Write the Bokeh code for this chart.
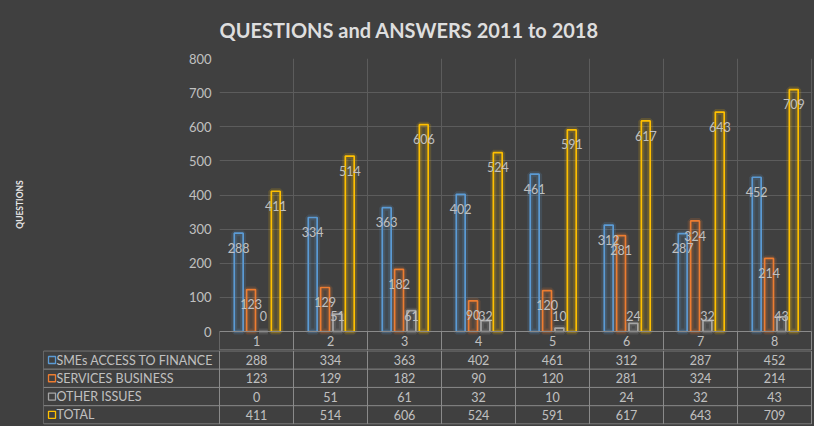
import numpy as np
from bokeh.plotting import figure
from bokeh.models import Range1d, SingleIntervalTicker, FixedTicker, ColumnDataSource
from bokeh.layouts import column
from bokeh.embed import file_html
from bokeh.resources import INLINE
from bokeh.core.properties import value

# ---------------- data ----------------
title_text = "QUESTIONS and ANSWERS 2011 to 2018"
y_label = "QUESTIONS"
categories = ["1", "2", "3", "4", "5", "6", "7", "8"]
series_names = ["SMEs ACCESS TO FINANCE", "SERVICES BUSINESS", "OTHER ISSUES", "TOTAL"]
smes_access = [288, 334, 363, 402, 461, 312, 287, 452]
services_business = [123, 129, 182, 90, 120, 281, 324, 214]
other_issues = [0, 51, 61, 32, 10, 24, 32, 43]
total = [411, 514, 606, 524, 591, 617, 643, 709]
y_ticks = [0, 100, 200, 300, 400, 500, 600, 700, 800]

series_values = [smes_access, services_business, other_issues, total]

# ---------------- style ----------------
colors = ["#5b9bd5", "#ed7d31", "#a5a5a5", "#ffc000"]
BG = "#404040"
GRID = "#5c5c5c"
TABLE_LINE = "#8a8a8a"
TXT = "#c0c0c0"
FONT = "Lato"

n = len(categories)
nrows = len(series_names)
xc = np.arange(n) + 0.5
ymax = y_ticks[-1]

# layout helpers (pixels -> data units)
px_per_y = 273 / ymax          # plot height 273 px for 0..800
px_per_x = 74                  # one category = 74 px
row_h = 18.5 / px_per_y        # header row height in y units
L0 = 176 / px_per_x            # label column width in x units
x_end = n + 1 / px_per_x

# ---------------- chart (with header row of the table) ----------------
p = figure(width=814, height=350,
           x_range=Range1d(0, x_end), y_range=Range1d(-19 / px_per_y, ymax),
           output_backend="svg", toolbar_location=None, x_axis_location=None,
           min_border_left=219, min_border_right=2, min_border_top=58, min_border_bottom=0)
p.frame_align = False
p.background_fill_color = BG
p.border_fill_color = BG
p.outline_line_color = None

p.title.text = title_text
p.title.align = "left"
p.title.offset = 0
p.title.vertical_align = "middle"
p.title.text_font = FONT
p.title.text_font_size = "20px"
p.title.text_font_style = "bold"
p.title.text_color = "#dedede"
p.title.standoff = 32

p.xgrid.ticker = SingleIntervalTicker(interval=1)
p.xgrid.bounds = (0, n)
p.xgrid.cross_bounds = (0, ymax)
p.xgrid.grid_line_color = GRID
p.ygrid.ticker = FixedTicker(ticks=y_ticks)
p.ygrid.bounds = (1, ymax)
p.ygrid.grid_line_color = GRID

ax = p.yaxis[0]
ax.bounds = (0, ymax)
ax.ticker = FixedTicker(ticks=y_ticks)
ax.axis_line_color = None
ax.major_tick_line_color = None
ax.minor_tick_line_color = None
ax.major_tick_in = 0
ax.major_tick_out = 0
ax.major_label_standoff = 8
ax.major_label_text_color = TXT
ax.major_label_text_font = FONT
ax.major_label_text_font_size = "13px"
ax.axis_label = y_label
ax.axis_label_text_color = "#e6e6e6"
ax.axis_label_text_font = FONT
ax.axis_label_text_font_size = "8.5px"
ax.axis_label_text_font_style = "bold"
ax.axis_label_standoff = 161

step = 0.167
bw = 0.12
label_sources = []
for k, (vals, col) in enumerate(zip(series_values, colors)):
    xs = xc + (k - 1.5) * step + 0.01
    v = np.array(vals, dtype=float)
    src = ColumnDataSource(dict(x=xs, top=v, ly=np.maximum(v - 43, 46), t=[str(a) for a in vals]))
    p.vbar(x="x", top="top", bottom=0, width=bw, source=src,
           fill_color=col, fill_alpha=0.10, line_color=col, line_width=6, line_alpha=0.16)
    p.vbar(x="x", top="top", bottom=0, width=bw, source=src,
           fill_color=None, line_color=col, line_width=1.7)
    label_sources.append(src)

for src in label_sources:
    p.text(x="x", y="ly", text="t", source=src, text_align="center", text_baseline="middle",
           text_color=TXT, text_font=value(FONT), text_font_size="12.5px")

# header row (category names) of the data table
p.segment(x0=[0, 0], y0=[0, -row_h], x1=[n, n], y1=[0, -row_h], line_color=TABLE_LINE, line_width=1)
hv = list(range(n + 1))
p.segment(x0=hv, y0=[0] * len(hv), x1=hv, y1=[-row_h] * len(hv), line_color=TABLE_LINE, line_width=1)
p.text(x=xc, y=[-0.5 * row_h] * n, text=categories, text_align="center", text_baseline="middle",
       text_color=TXT, text_font=value(FONT), text_font_size="12.5px")

# ---------------- data table body ----------------
t = figure(width=814, height=76, x_range=Range1d(-L0, x_end), y_range=Range1d(-0.03, nrows + 0.02),
           output_backend="svg", toolbar_location=None, x_axis_location=None, y_axis_location=None,
           min_border_left=43, min_border_right=2, min_border_top=0, min_border_bottom=2)
t.frame_align = False
t.background_fill_color = BG
t.border_fill_color = BG
t.outline_line_color = None
t.grid.visible = False

hy = list(range(nrows + 1))
t.segment(x0=[-L0] * len(hy), y0=hy, x1=[n] * len(hy), y1=hy, line_color=TABLE_LINE, line_width=1)
vx = [-L0] + list(range(n + 1))
t.segment(x0=vx, y0=[0] * len(vx), x1=vx, y1=[nrows] * len(vx), line_color=TABLE_LINE, line_width=1)

for k, (name, vals, col) in enumerate(zip(series_names, series_values, colors)):
    yrow = nrows - k - 0.5
    t.text(x=xc, y=[yrow] * n, text=[str(a) for a in vals], text_align="center",
           text_baseline="middle", text_color=TXT, text_font=value(FONT), text_font_size="12.5px")
    t.scatter(x=[-L0 + 0.115], y=[yrow], marker="square", size=7, fill_color=None,
              line_color=col, line_width=1.3)
    t.text(x=[-L0 + 0.175], y=[yrow], text=[name], text_align="left", text_baseline="middle",
           text_color=TXT, text_font=value(FONT), text_font_size="12.5px")

layout = column(p, t, spacing=0, styles={"background-color": BG})
open("out.html", "w").write(file_html(layout, INLINE))
